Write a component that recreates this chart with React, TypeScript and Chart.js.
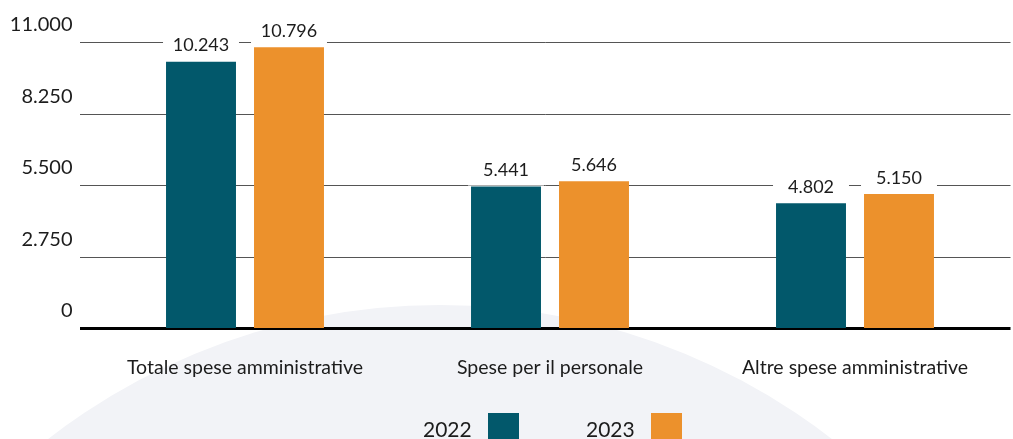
import React, { useEffect, useRef } from 'react';
import { Chart, registerables } from 'chart.js';

Chart.register(...registerables);

const categories = ['Totale spese amministrative', 'Spese per il personale', 'Altre spese amministrative'];
const seriesLabels = ['2022', '2023'];
const values2022 = [10243, 5441, 4802];
const values2023 = [10796, 5646, 5150];
const yTicks = [0, 2750, 5500, 8250, 11000];
const seriesColors = ['#02586b', '#ec912c'];

const FONT = 'Lato, "Open Sans", sans-serif';
const TEXT = '#1c1c1c';

const fmt = (v: number) => String(Math.round(v)).replace(/\B(?=(\d{3})+(?!\d))/g, '.');

const backgroundPlugin = {
  id: 'bgCircle',
  beforeDraw(chart: any) {
    const { ctx, width, height } = chart;
    ctx.save();
    ctx.fillStyle = '#ffffff';
    ctx.fillRect(0, 0, width, height);
    ctx.beginPath();
    ctx.arc(440, 945, 640, 0, Math.PI * 2);
    ctx.fillStyle = '#f2f3f7';
    ctx.fill();
    ctx.restore();
  },
};

const gridPlugin = {
  id: 'customGrid',
  beforeDatasetsDraw(chart: any) {
    const { ctx, chartArea } = chart;
    const y = chart.scales.y;
    ctx.save();
    yTicks.forEach((t) => {
      const py = y.getPixelForValue(t);
      if (t === 0) {
        ctx.fillStyle = '#000000';
        ctx.fillRect(80, Math.round(py) - 1, chartArea.right + 3 - 80, 3);
      } else {
        ctx.strokeStyle = '#555555';
        ctx.lineWidth = 1;
        ctx.beginPath();
        ctx.moveTo(80, Math.round(py) + 0.5);
        ctx.lineTo(chartArea.right + 3, Math.round(py) + 0.5);
        ctx.stroke();
      }
    });
    ctx.restore();
  },
};

const valueLabelPlugin = {
  id: 'valueLabels',
  afterDatasetsDraw(chart: any) {
    const { ctx } = chart;
    ctx.save();
    chart.data.datasets.forEach((ds: any, di: number) => {
      const meta = chart.getDatasetMeta(di);
      meta.data.forEach((bar: any, i: number) => {
        const { x, y, width } = bar.getProps(['x', 'y', 'width'], true);
        ctx.fillStyle = '#ffffff';
        ctx.fillRect(x - width / 2 - 3, y - 36, width + 6, 35);
        ctx.fillStyle = TEXT;
        ctx.font = `18px ${FONT}`;
        ctx.textAlign = 'center';
        ctx.textBaseline = 'middle';
        ctx.fillText(fmt(ds.data[i]), x, y - 16);
      });
    });
    ctx.restore();
  },
};

const legendPlugin = {
  id: 'customLegend',
  afterDraw(chart: any) {
    const { ctx } = chart;
    const textX = [423, 586];
    const boxX = [488, 651];
    ctx.save();
    chart.data.datasets.forEach((ds: any, i: number) => {
      ctx.fillStyle = TEXT;
      ctx.font = `21px ${FONT}`;
      ctx.textAlign = 'left';
      ctx.textBaseline = 'middle';
      ctx.fillText(ds.label, textX[i], 430);
      ctx.fillStyle = ds.backgroundColor;
      ctx.fillRect(boxX[i], 413, 31, 31);
    });
    ctx.restore();
  },
};

export default function App() {
  const canvasRef = useRef<HTMLCanvasElement | null>(null);

  useEffect(() => {
    if (!canvasRef.current) return;
    const chart = new Chart(canvasRef.current, {
      type: 'bar',
      data: {
        labels: categories,
        datasets: [
          {
            label: seriesLabels[0],
            data: values2022,
            backgroundColor: seriesColors[0],
            categoryPercentage: 0.577,
            barPercentage: 0.795,
          },
          {
            label: seriesLabels[1],
            data: values2023,
            backgroundColor: seriesColors[1],
            categoryPercentage: 0.577,
            barPercentage: 0.795,
          },
        ],
      },
      options: {
        responsive: false,
        animation: false,
        layout: { padding: { top: 42, right: 5.5, left: 0, bottom: 0 } },
        plugins: {
          legend: { display: false },
          tooltip: { enabled: false },
        },
        scales: {
          x: {
            grid: { display: false, drawTicks: false },
            border: { display: false },
            ticks: {
              color: TEXT,
              font: { family: FONT, size: 19.5 },
              padding: 28,
              maxRotation: 0,
            },
            afterFit(scale: any) {
              scale.height = 111;
            },
          },
          y: {
            min: 0,
            max: 11000,
            afterBuildTicks(scale: any) {
              scale.ticks = yTicks.map((v) => ({ value: v }));
            },
            grid: { display: false, drawTicks: false },
            border: { display: false },
            ticks: {
              color: TEXT,
              font: { family: FONT, size: 20 },
              padding: 20,
              labelOffset: -17,
              callback: (v: any) => fmt(Number(v)),
            },
            afterFit(scale: any) {
              scale.width = 92.5;
            },
          },
        },
      },
      plugins: [backgroundPlugin, gridPlugin, valueLabelPlugin, legendPlugin],
    });
    return () => chart.destroy();
  }, []);

  return (
    <div style={{ position: 'fixed', left: 0, top: 0, width: 1013, height: 439, overflow: 'hidden', background: '#fff' }}>
      <canvas ref={canvasRef} width={1013} height={439} style={{ display: 'block' }} />
    </div>
  );
}
